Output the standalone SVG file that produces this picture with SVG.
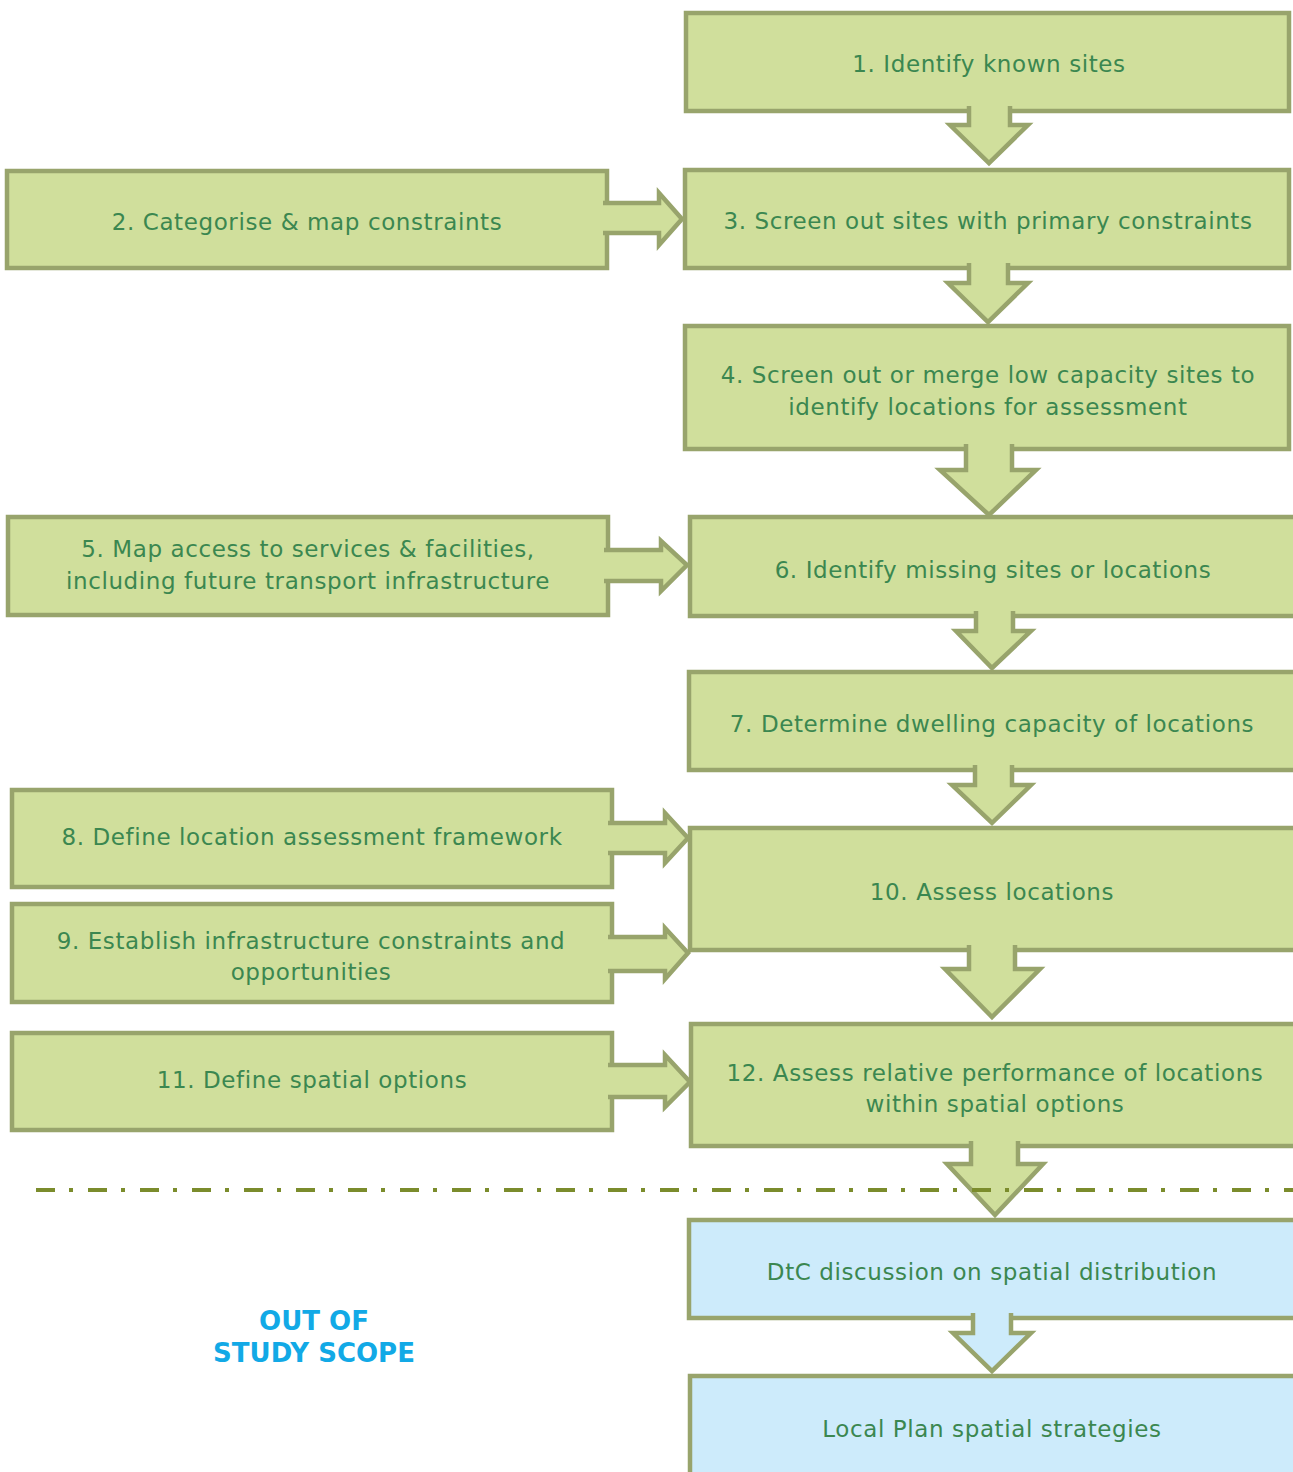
<svg xmlns="http://www.w3.org/2000/svg" width="1293" height="1472" viewBox="0 0 1293 1472">
<style>
.g{fill:#d0df9c;stroke:#98a46c;stroke-width:4.5}
.b{fill:#cdebfb;stroke:#98a46c;stroke-width:4.5}
.ar{fill:#d0df9c;stroke:#98a46c;stroke-width:4.5;stroke-linejoin:miter;stroke-miterlimit:10}
.arb{fill:#cdebfb;stroke:#98a46c;stroke-width:4.5;stroke-linejoin:miter;stroke-miterlimit:10}
.t{font-family:"DejaVu Sans",Verdana,sans-serif;font-size:23px;letter-spacing:0.6px;fill:#3b8750;text-anchor:middle}
.o{font-family:"DejaVu Sans",Verdana,sans-serif;font-size:26px;font-weight:bold;fill:#12a9e6;text-anchor:middle}
</style>
<rect width="1293" height="1472" fill="#ffffff"/>
<g id="nodes">
<g id="n1"><rect class="g" x="686" y="13" width="603" height="98"/><text class="t" x="989" y="72">1.  Identify known sites</text></g>
<g id="n2"><rect class="g" x="7" y="171" width="600" height="97"/><text class="t" x="307" y="230">2. Categorise &amp; map constraints</text></g>
<g id="n3"><rect class="g" x="685" y="170" width="604" height="98"/><text class="t" x="988" y="229">3. Screen out sites with primary constraints</text></g>
<g id="n4"><rect class="g" x="685" y="326" width="604" height="123"/><text class="t" x="988" y="383">4. Screen out or merge low capacity sites to</text><text class="t" x="988" y="415">identify locations for assessment</text></g>
<g id="n5"><rect class="g" x="8" y="517" width="600" height="98"/><text class="t" x="308" y="557">5. Map access to services &amp; facilities,</text><text class="t" x="308" y="589">including future transport infrastructure</text></g>
<g id="n6"><rect class="g" x="690" y="517" width="610" height="99"/><text class="t" x="993" y="578">6. Identify missing sites or locations</text></g>
<g id="n7"><rect class="g" x="689" y="672" width="610" height="98"/><text class="t" x="992" y="732">7. Determine dwelling capacity of locations</text></g>
<g id="n8"><rect class="g" x="12" y="790" width="600" height="97"/><text class="t" x="312" y="845">8. Define location assessment framework</text></g>
<g id="n9"><rect class="g" x="12" y="904" width="600" height="98"/><text class="t" x="311" y="949">9. Establish infrastructure constraints and</text><text class="t" x="311" y="980">opportunities</text></g>
<g id="n10"><rect class="g" x="690" y="828" width="610" height="122"/><text class="t" x="992" y="900">10. Assess locations</text></g>
<g id="n11"><rect class="g" x="12" y="1033" width="600" height="97"/><text class="t" x="312" y="1088">11. Define spatial options</text></g>
<g id="n12"><rect class="g" x="691" y="1024" width="610" height="122"/><text class="t" x="995" y="1081">12. Assess relative performance of locations</text><text class="t" x="995" y="1112">within spatial options</text></g>
<g id="n13"><rect class="b" x="689" y="1220" width="610" height="98"/><text class="t" x="992" y="1280">DtC discussion on spatial distribution</text></g>
<g id="n14"><rect class="b" x="690" y="1376" width="610" height="110"/><text class="t" x="992" y="1437">Local Plan spatial strategies</text></g>
<g id="scope"><text class="o" x="314" y="1330">OUT OF</text><text class="o" x="314" y="1362">STUDY SCOPE</text></g>
</g>
<g id="connectors">
<path class="ar" d="M969,106 L969,125 L950,125 L989,163 L1028,125 L1010,125 L1010,106"/>
<path class="ar" d="M969,263 L969,283 L948,283 L988,322 L1028,283 L1008,283 L1008,263"/>
<path class="ar" d="M966,444 L966,470 L940,470 L989,515 L1036,470 L1012,470 L1012,444"/>
<path class="ar" d="M976,611 L976,631 L956,631 L992,668 L1031,631 L1013,631 L1013,611"/>
<path class="ar" d="M975,765 L975,785 L952,785 L992,823 L1031,785 L1012,785 L1012,765"/>
<path class="ar" d="M969,945 L969,969 L945,969 L992,1017 L1040,969 L1015,969 L1015,945"/>
<path class="ar" d="M971,1141 L971,1164 L947,1164 L995,1215 L1043,1164 L1018,1164 L1018,1141"/>
<path class="arb" d="M973,1313 L973,1333 L953,1333 L992,1371 L1031,1333 L1011,1333 L1011,1313"/>
<path class="ar" d="M603,203 L659,203 L659,193 L682,219 L659,245 L659,233 L603,233"/>
<path class="ar" d="M604,550 L661,550 L661,541 L687,565 L661,591 L661,581 L604,581"/>
<path class="ar" d="M608,823 L665,823 L665,813 L688,838 L665,863 L665,853 L608,853"/>
<path class="ar" d="M608,937 L665,937 L665,928 L688,953 L665,979 L665,971 L608,971"/>
<path class="ar" d="M608,1065 L665,1065 L665,1055 L690,1082 L665,1107 L665,1097 L608,1097"/>
</g>
<g id="scope-line">
<line x1="36" y1="1190" x2="1293" y2="1190" stroke="#7b8c2c" stroke-width="4" stroke-dasharray="19 14 4 15"/>
</g>
</svg>
